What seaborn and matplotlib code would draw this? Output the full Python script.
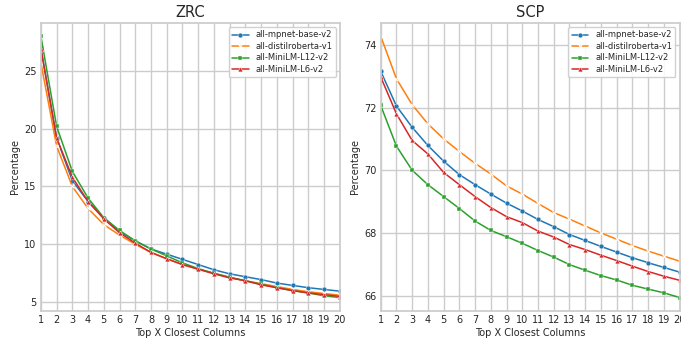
import matplotlib
matplotlib.use("Agg")
import matplotlib.pyplot as plt
import seaborn as sns
import pandas as pd

top_x = list(range(1, 21))
models = ["all-mpnet-base-v2", "all-distilroberta-v1", "all-MiniLM-L12-v2", "all-MiniLM-L6-v2"]

zrc_mpnet = [27.0, 19.2, 15.5, 13.7, 12.3, 11.1, 10.3, 9.6, 9.15, 8.7, 8.25, 7.8, 7.45, 7.2, 6.95, 6.65, 6.45, 6.25, 6.1, 5.95]
zrc_distil = [25.7, 18.5, 15.0, 13.1, 11.7, 10.8, 10.0, 9.3, 8.75, 8.25, 7.85, 7.5, 7.15, 6.85, 6.6, 6.35, 6.1, 5.9, 5.75, 5.6]
zrc_l12 = [28.0, 20.2, 16.3, 14.0, 12.3, 11.2, 10.3, 9.6, 9.0, 8.4, 7.9, 7.5, 7.15, 6.85, 6.55, 6.25, 6.0, 5.8, 5.55, 5.4]
zrc_l6 = [26.9, 19.2, 15.8, 13.7, 12.2, 11.0, 10.1, 9.3, 8.75, 8.25, 7.85, 7.45, 7.1, 6.85, 6.5, 6.25, 6.0, 5.8, 5.65, 5.5]

scp_mpnet = [73.16, 72.05, 71.37, 70.79, 70.29, 69.86, 69.54, 69.24, 68.95, 68.7, 68.43, 68.2, 67.95, 67.76, 67.57, 67.39, 67.21, 67.05, 66.9, 66.75]
scp_distil = [74.28, 72.92, 72.09, 71.48, 71.0, 70.6, 70.22, 69.88, 69.5, 69.24, 68.94, 68.65, 68.44, 68.22, 68.0, 67.8, 67.6, 67.42, 67.26, 67.1]
scp_l12 = [72.07, 70.77, 70.0, 69.54, 69.16, 68.78, 68.38, 68.08, 67.88, 67.67, 67.44, 67.23, 66.99, 66.81, 66.64, 66.5, 66.33, 66.21, 66.09, 65.94]
scp_l6 = [72.98, 71.8, 70.95, 70.52, 69.93, 69.54, 69.16, 68.81, 68.52, 68.33, 68.06, 67.87, 67.63, 67.47, 67.29, 67.12, 66.94, 66.77, 66.62, 66.49]

sns.set_theme(style="whitegrid")
plt.rcParams['font.family'] = ['DejaVu Sans']

fig = plt.figure(figsize=(6.81, 3.38), dpi=100)
ax1 = fig.add_axes([0.060, 0.081, 0.439, 0.851])
ax2 = fig.add_axes([0.559, 0.081, 0.439, 0.851])

palette = sns.color_palette("tab10", 4)
marker_list = ["o", "x", "s", "^"]

for ax, series, title in [(ax1, [zrc_mpnet, zrc_distil, zrc_l12, zrc_l6], "ZRC"),
                          (ax2, [scp_mpnet, scp_distil, scp_l12, scp_l6], "SCP")]:
    for m, vals, col, mk in zip(models, series, palette, marker_list):
        df = pd.DataFrame({"x": top_x, "Percentage": vals})
        if mk == "x":
            sns.lineplot(data=df, x="x", y="Percentage", ax=ax, color=col, label=m,
                         marker="x", markersize=3.5, linewidth=1.1,
                         markeredgecolor="white", markeredgewidth=0.8)
        else:
            sns.lineplot(data=df, x="x", y="Percentage", ax=ax, color=col, label=m,
                         marker=mk, markersize=3.5, linewidth=1.1,
                         markeredgecolor="white", markeredgewidth=0.3)
    ax.set_title(title, fontsize=10.5, pad=4, color="#262626")
    ax.set_xlabel("Top X Closest Columns", fontsize=7, labelpad=2)
    ax.set_ylabel("Percentage", fontsize=7, labelpad=3)
    ax.set_xticks(top_x)
    ax.set_xlim(1, 20)
    ax.tick_params(axis="both", labelsize=7, pad=3, length=0)
    ax.legend(loc="upper right", fontsize=6, title=None, handlelength=2.0,
              borderpad=0.4, labelspacing=0.3, framealpha=0.9)

fig.savefig("out.png", dpi=100)
